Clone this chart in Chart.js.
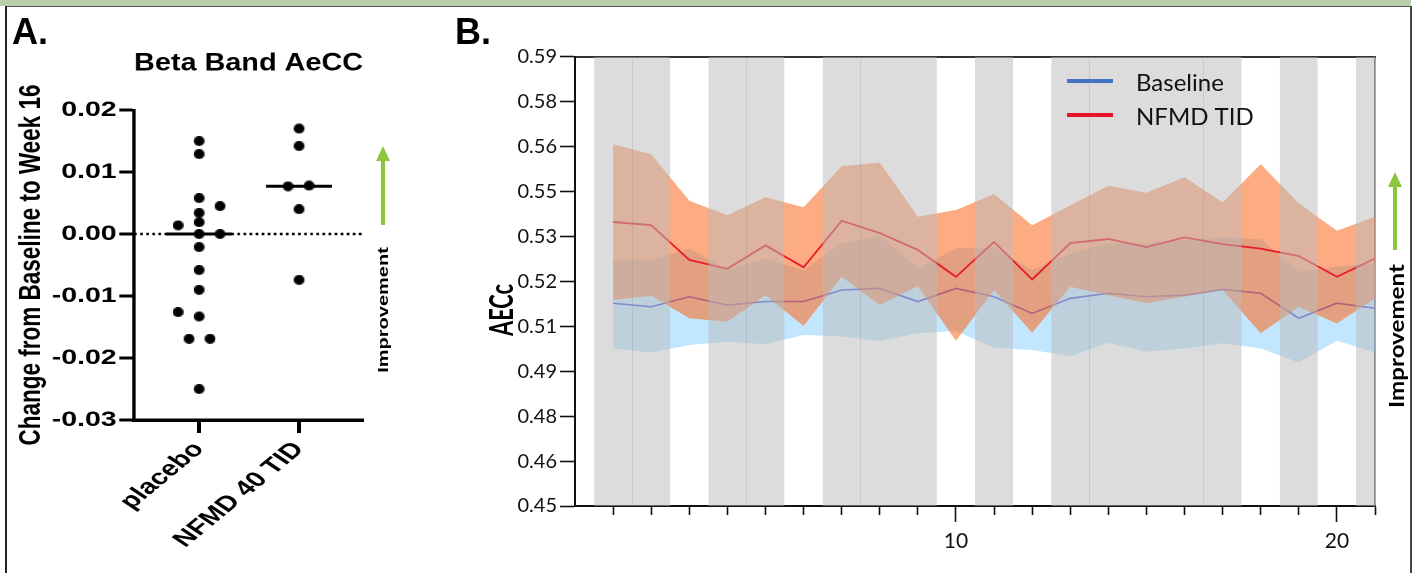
<!DOCTYPE html>
<html>
<head>
<meta charset="utf-8">
<script src="https://cdn.jsdelivr.net/npm/chart.js@4.4.0/dist/chart.umd.min.js"></script>
<style>
  html, body { margin: 0; padding: 0; background: #fff; }
  body { width: 1414px; height: 573px; position: relative; overflow: hidden; }
  #strip { position: absolute; left: 0; top: 0; width: 1411px; height: 6px; background: #b9cfac; }
  #frame { position: absolute; left: 5px; top: 6px; width: 1403px; height: 600px;
           border-left: 2px solid #222; border-right: 2px solid #444; border-top: 1px solid #555; }
  .plabel { position: absolute; font: bold 36px "Liberation Sans", Arial, sans-serif; line-height: 36px; color: #000; }
  #cA { position: absolute; left: 0; top: 0; transform: scaleX(1.35); transform-origin: 0 0; }
  #cB { position: absolute; left: 420px; top: 0; }
  .rot { position: absolute; white-space: nowrap; color: #000; }
  #arrows { position: absolute; left: 0; top: 0; }
</style>
</head>
<body>
<div id="strip"></div>
<div id="frame"></div>
<canvas id="cA" width="311" height="573"></canvas>
<canvas id="cB" width="990" height="573"></canvas>
<div class="plabel" style="left:12px;top:14px;">A.</div>
<div class="plabel" style="left:455px;top:14px;">B.</div>

<svg id="arrows" width="1414" height="573">
  <line x1="383" y1="225" x2="383" y2="158" stroke="#8cc63f" stroke-width="4"/>
  <polygon points="376,161 390,161 383,146" fill="#8cc63f"/>
  <line x1="1395" y1="250" x2="1395" y2="184" stroke="#8cc63f" stroke-width="4"/>
  <polygon points="1388,187 1402,187 1395,172" fill="#8cc63f"/>
</svg>
<div class="rot" style="left:383px;top:310px;font:bold 14px 'Liberation Sans',Arial,sans-serif;transform:translate(-50%,-50%) rotate(-90deg) scaleX(1.43);">Improvement</div>
<div class="rot" style="left:1395px;top:336px;font:bold 21px Lato,sans-serif;transform:translate(-50%,-50%) rotate(-90deg) scaleX(1.15);">Improvement</div>
<div class="rot" style="left:500px;top:310px;font:bold 32px Lato,sans-serif;transform:translate(-50%,-50%) rotate(-90deg) scaleX(0.68);">AECc</div>

<script>
// ---- Panel A: Beta Band AeCC, change from baseline to week 16 ----
const groupLabels = ['placebo', 'NFMD 40 TID'];
const groupPos = [1, 2];
const yTickValuesA = [-0.03, -0.02, -0.01, 0, 0.01, 0.02];
const yTickLabelsA = ['-0.03', '-0.02', '-0.01', '0.00', '0.01', '0.02'];

const placeboVals = [0.0150, 0.0129, 0.0058, 0.0045, 0.0034, 0.0019, 0.0014, 0.0000, 0.0000, -0.0021,
                     -0.0058, -0.0090, -0.0126, -0.0133, -0.0169, -0.0169, -0.0250];
const placeboX    = [1.00, 1.00, 1.00, 1.21, 1.00, 1.00, 0.79, 1.00, 1.21, 1.00,
                     1.00, 1.00, 0.79, 1.00, 0.90, 1.11, 1.00];
const nfmdVals = [0.0170, 0.0142, 0.0077, 0.0078, 0.0040, -0.0074];
const nfmdX    = [2.00, 2.00, 1.89, 2.10, 2.00, 2.00];
const medians  = [0.0, 0.0077];

// ---- Panel B: AECc over days ----
const days = [1, 2, 3, 4, 5, 6, 7, 8, 9, 10, 11, 12, 13, 14, 15, 16, 17, 18, 19, 20, 21];
const baselineMean  = [0.5132, 0.5121, 0.5152, 0.5126, 0.5137, 0.5137, 0.5173, 0.5178, 0.5137, 0.5178, 0.5152,
                       0.5100, 0.5147, 0.5163, 0.5152, 0.5157, 0.5175, 0.5163, 0.5085, 0.5132, 0.5116];
const baselineUpper = [0.5267, 0.5267, 0.5302, 0.5235, 0.5272, 0.5235, 0.5319, 0.5344, 0.5239, 0.5303, 0.5306,
                       0.5235, 0.5287, 0.5319, 0.5319, 0.5329, 0.5337, 0.5331, 0.5230, 0.5246, 0.5256];
const baselineLower = [0.4991, 0.4978, 0.5002, 0.5012, 0.5004, 0.5033, 0.5028, 0.5014, 0.5038, 0.5045, 0.4993,
                       0.4986, 0.4967, 0.5009, 0.4981, 0.4991, 0.5007, 0.4991, 0.4947, 0.5015, 0.4978];
const nfmdMean  = [0.5385, 0.5375, 0.5267, 0.5239, 0.5312, 0.5244, 0.5389, 0.5350, 0.5298, 0.5214, 0.5323,
                   0.5206, 0.5319, 0.5332, 0.5307, 0.5337, 0.5316, 0.5302, 0.5279, 0.5214, 0.5271];
const nfmdUpper = [0.5627, 0.5596, 0.5451, 0.5406, 0.5462, 0.5431, 0.5559, 0.5570, 0.5401, 0.5422, 0.5472,
                   0.5375, 0.5436, 0.5498, 0.5476, 0.5524, 0.5446, 0.5565, 0.5443, 0.5358, 0.5401];
const nfmdLower = [0.5142, 0.5155, 0.5085, 0.5074, 0.5157, 0.5061, 0.5214, 0.5126, 0.5185, 0.5015, 0.5173,
                   0.5040, 0.5183, 0.5157, 0.5132, 0.5152, 0.5173, 0.5038, 0.5121, 0.5069, 0.5147];
const grayBands = [[0.5, 2.5], [3.5, 5.5], [6.5, 9.5], [10.5, 11.5], [12.5, 17.5], [18.5, 19.5], [20.5, 21]];
const bandSeparators = [1.5, 4.5, 7.5, 13.5, 16.5];
const yTickValuesB = [0.45, 0.464, 0.478, 0.492, 0.506, 0.52, 0.534, 0.548, 0.562, 0.576, 0.59];
const yTickLabelsB = ['0.45', '0.46', '0.48', '0.49', '0.51', '0.52', '0.53', '0.55', '0.56', '0.58', '0.59'];
const xLabelDaysB = [10, 20];

const ARIAL = "'Liberation Sans', Arial, sans-serif";
const LATO = "Lato, 'Open Sans', sans-serif";

// the panel A canvas is stretched 1.35x sideways, so dots are drawn narrower to come out round
function makeDot(w, h) {
  const c = document.createElement('canvas');
  c.width = w; c.height = h;
  const g = c.getContext('2d');
  g.fillStyle = '#000';
  g.beginPath();
  g.ellipse(w / 2, h / 2, w / 2, h / 2, 0, 0, Math.PI * 2);
  g.fill();
  return c;
}
const dotA = makeDot(8, 10);
const medianHalf = 0.33;

new Chart(document.getElementById('cA'), {
  type: 'scatter',
  data: {
    datasets: [
      {
        label: groupLabels[0],
        data: placeboVals.map((v, i) => ({ x: placeboX[i], y: v })),
        pointStyle: dotA, pointRadius: 5, order: 1
      },
      {
        label: groupLabels[1],
        data: nfmdVals.map((v, i) => ({ x: nfmdX[i], y: v })),
        pointStyle: dotA, pointRadius: 5, order: 1
      },
      {
        type: 'line',
        data: [{ x: groupPos[0] - medianHalf, y: medians[0] }, { x: groupPos[0] + medianHalf, y: medians[0] }],
        borderColor: '#000', borderWidth: 3, pointRadius: 0, order: 2
      },
      {
        type: 'line',
        data: [{ x: groupPos[1] - medianHalf, y: medians[1] }, { x: groupPos[1] + medianHalf, y: medians[1] }],
        borderColor: '#000', borderWidth: 3, pointRadius: 0, order: 2
      },
      {
        type: 'line',
        data: [{ x: 0.35, y: 0 }, { x: 2.64, y: 0 }],
        borderColor: '#000', borderWidth: 2.6, borderDash: [2, 2.5], pointRadius: 0, order: 3
      }
    ]
  },
  options: {
    responsive: false,
    animation: false,
    devicePixelRatio: 2,
    layout: { padding: { left: 10, right: 42.1, top: 0, bottom: 0 } },
    plugins: { legend: { display: false }, tooltip: { enabled: false } },
    scales: {
      x: {
        type: 'linear', min: 0.35, max: 2.64,
        afterBuildTicks: s => { s.ticks = groupPos.map(v => ({ value: v })); },
        afterFit: s => { s.height = 153; },
        ticks: {
          autoSkip: false, minRotation: 48, maxRotation: 48, padding: 4, color: '#000',
          font: { family: ARIAL, size: 21.5, weight: 'bold' },
          callback: (v, i) => groupLabels[i]
        },
        grid: { drawOnChartArea: false, drawTicks: true, tickLength: 13, tickWidth: 3, tickColor: '#000' },
        border: { display: true, color: '#000', width: 3.5 }
      },
      xTop: {
        type: 'linear', position: 'top', min: 0.35, max: 2.64,
        afterFit: s => { s.height = 110; },
        ticks: { display: false },
        grid: { display: false },
        border: { display: false },
        title: {
          display: true, text: 'Beta Band AeCC', color: '#000',
          font: { family: ARIAL, size: 25, weight: 'bold' },
          padding: { top: 48.5, bottom: 0 }
        }
      },
      y: {
        min: -0.03, max: 0.02,
        afterBuildTicks: s => { s.ticks = yTickValuesA.map(v => ({ value: v })); },
        afterFit: s => { s.width = 89.3; },
        ticks: {
          padding: 2, color: '#000',
          font: { family: ARIAL, size: 21, weight: 'bold' },
          callback: (v, i) => yTickLabelsA[i]
        },
        grid: { drawOnChartArea: false, drawTicks: true, tickLength: 11, tickWidth: 3, tickColor: '#000' },
        border: { display: true, color: '#000', width: 2.4 },
        title: {
          display: true, text: 'Change from Baseline to Week 16', color: '#000',
          font: { family: ARIAL, size: 22.5, weight: 'bold' },
          padding: { top: 0, bottom: 0 }
        }
      }
    }
  }
});

// gray day bands as filled segments, broken by gaps
const bandData = [];
grayBands.forEach((b, i) => {
  bandData.push({ x: b[0], y: 0.59 }, { x: b[1], y: 0.59 });
  if (i < grayBands.length - 1) bandData.push({ x: (b[1] + grayBands[i + 1][0]) / 2, y: null });
});

const pts = arr => arr.map((v, i) => ({ x: days[i], y: v }));
const orangeFill = 'rgba(250, 110, 40, 0.58)';
const blueFill = 'rgba(120, 200, 250, 0.45)';
const redLine = '#ea1c28';
const blueLine = '#4a55e6';

const legendB = {
  id: 'legendB',
  afterDraw(chart) {
    const ctx = chart.ctx;
    const items = [
      { text: 'Baseline', color: '#4472c4', y: 81 },
      { text: 'NFMD TID', color: '#e8132b', y: 115 }
    ];
    ctx.save();
    items.forEach(it => {
      ctx.strokeStyle = it.color;
      ctx.lineWidth = 4;
      ctx.beginPath();
      ctx.moveTo(647, it.y);
      ctx.lineTo(693, it.y);
      ctx.stroke();
      ctx.fillStyle = '#111';
      ctx.font = "24px " + LATO;
      ctx.textBaseline = 'alphabetic';
      ctx.fillText(it.text, 716, it.y + 10);
    });
    ctx.restore();
  }
};

new Chart(document.getElementById('cB'), {
  type: 'line',
  data: {
    datasets: [
      {
        label: 'days', data: bandData, fill: { value: 0.45 }, spanGaps: false,
        backgroundColor: 'rgba(186, 186, 186, 0.51)', borderWidth: 0, pointRadius: 0, order: 0
      },
      { label: 'NFMD TID', data: pts(nfmdMean), borderColor: redLine, borderWidth: 1.8, pointRadius: 0, fill: false, order: 1 },
      { label: 'NFMD upper', data: pts(nfmdUpper), borderWidth: 0, pointRadius: 0, fill: false, order: 2 },
      { label: 'NFMD lower', data: pts(nfmdLower), borderWidth: 0, pointRadius: 0, fill: '-1', backgroundColor: orangeFill, order: 2 },
      { label: 'Baseline', data: pts(baselineMean), borderColor: blueLine, borderWidth: 1.6, pointRadius: 0, fill: false, order: 3 },
      { label: 'Baseline upper', data: pts(baselineUpper), borderWidth: 0, pointRadius: 0, fill: false, order: 4 },
      { label: 'Baseline lower', data: pts(baselineLower), borderWidth: 0, pointRadius: 0, fill: '-1', backgroundColor: blueFill, order: 4 }
    ]
  },
  options: {
    responsive: false,
    animation: false,
    layout: { padding: { left: 65.6, right: 35, top: 0, bottom: 0 } },
    plugins: { legend: { display: false }, tooltip: { enabled: false } },
    elements: { line: { tension: 0 } },
    scales: {
      x: {
        type: 'linear', min: 0, max: 21,
        afterBuildTicks: s => { s.ticks = days.map(v => ({ value: v })); },
        afterFit: s => { s.height = 67; },
        ticks: {
          autoSkip: false, maxRotation: 0, padding: 7, color: '#111',
          font: { family: LATO, size: 21 },
          callback: v => xLabelDaysB.includes(v) ? String(v) : ''
        },
        grid: {
          drawOnChartArea: false, drawTicks: true, tickLength: 16, tickWidth: 1.6, tickColor: '#111',
          tickBorderDash: ctx => (ctx.tick && xLabelDaysB.includes(ctx.tick.value)) ? [] : [8, 40]
        },
        border: { display: true, color: '#111', width: 2 }
      },
      xSep: {
        type: 'linear', position: 'bottom', min: 0, max: 21,
        afterBuildTicks: s => { s.ticks = bandSeparators.map(v => ({ value: v })); },
        afterFit: s => { s.height = 0; },
        ticks: { display: false },
        grid: { display: true, drawOnChartArea: true, drawTicks: false, color: 'rgba(130,130,130,0.22)', lineWidth: 1, z: 1 },
        border: { display: false }
      },
      xTop: {
        type: 'linear', position: 'top', min: 0, max: 21,
        afterFit: s => { s.height = 56.7; },
        ticks: { display: false },
        grid: { display: false },
        border: { display: true, color: '#333', width: 2 }
      },
      y: {
        min: 0.45, max: 0.59,
        afterBuildTicks: s => { s.ticks = yTickValuesB.map(v => ({ value: v })); },
        afterFit: s => { s.width = 89.4; },
        ticks: {
          padding: 3, color: '#111',
          font: { family: LATO, size: 20 },
          callback: (v, i) => yTickLabelsB[i]
        },
        grid: { drawOnChartArea: false, drawTicks: true, tickLength: 15, tickWidth: 1.6, tickColor: '#111' },
        border: { display: true, color: '#111', width: 2 }
      },
      yRight: {
        position: 'right', min: 0.45, max: 0.59,
        afterFit: s => { s.width = 0; },
        ticks: { display: false },
        grid: { display: false },
        border: { display: true, color: '#555', width: 1.5 }
      }
    }
  },
  plugins: [legendB]
});
</script>
</body>
</html>
